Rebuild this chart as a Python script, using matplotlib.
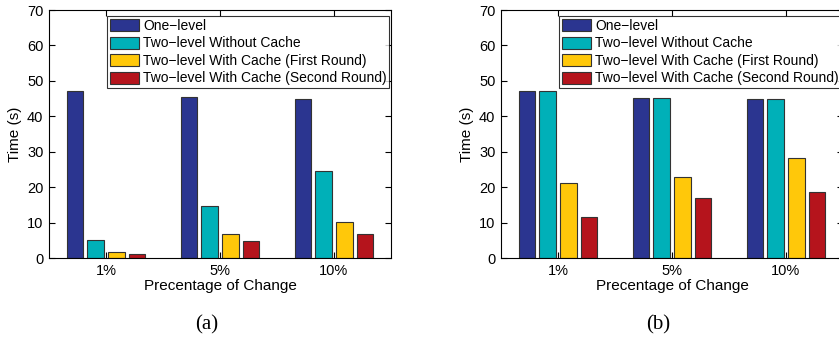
import numpy as np
import matplotlib.pyplot as plt

groups = ['1%', '5%', '10%']
series = ['One\u2212level', 'Two\u2212level Without Cache',
          'Two\u2212level With Cache (First Round)',
          'Two\u2212level With Cache (Second Round)']
colors = ['#2b3590', '#00b0b8', '#ffc80a', '#b5141c']

# panel (a)
a_one = [47.2, 45.4, 45.0]
a_nocache = [5.0, 14.8, 24.5]
a_first = [1.7, 6.8, 10.1]
a_second = [1.0, 4.7, 6.8]

# panel (b)
b_one = [47.2, 45.3, 44.9]
b_nocache = [47.2, 45.3, 44.9]
b_first = [21.3, 23.0, 28.1]
b_second = [11.5, 16.8, 18.7]

plt.rcParams['font.family'] = ['Liberation Sans', 'DejaVu Sans']

fig = plt.figure(figsize=(8.39, 3.4), dpi=100)
w = 342 / 839
h = (258 - 10) / 340
ax1 = fig.add_axes([49 / 839, 1 - 258 / 340, w, h])
ax2 = fig.add_axes([501 / 839, 1 - 258 / 340, w, h])

x = np.arange(1, 4)
step = 0.182
bw = 0.8 * step

for ax, data, cap, cx in [(ax1, [a_one, a_nocache, a_first, a_second], '(a)', 207),
                          (ax2, [b_one, b_nocache, b_first, b_second], '(b)', 658)]:
    for i, vals in enumerate(data):
        ax.bar(x + (i - 1.5) * step, vals, bw, color=colors[i],
               edgecolor='#333333', linewidth=0.8, label=series[i])
    ax.set_xlim(0.5, 3.5)
    ax.set_ylim(0, 70)
    ax.set_yticks(range(0, 71, 10))
    ax.set_xticks(x)
    ax.set_xticklabels(groups)
    ax.tick_params(direction='in', top=True, right=True, labelsize=10.5,
                   length=4, width=0.8, pad=4)
    for s in ax.spines.values():
        s.set_linewidth(0.8)
    ax.set_ylabel('Time (s)', fontsize=11, labelpad=4)
    ax.set_xlabel('Precentage of Change', fontsize=11, labelpad=1)
    leg = ax.legend(loc='upper right', bbox_to_anchor=(0.995, 0.975),
                    fontsize=10, frameon=True, fancybox=False,
                    handlelength=2.1, handleheight=0.95, handletextpad=0.3,
                    labelspacing=0.25, borderpad=0.2, borderaxespad=0)
    leg.get_frame().set_edgecolor('black')
    leg.get_frame().set_linewidth(0.8)
    fig.text(cx / 839, 1 - 325 / 340, cap, ha='center', va='center',
             fontsize=15, family='Liberation Serif')

fig.savefig('out.png', dpi=100)
